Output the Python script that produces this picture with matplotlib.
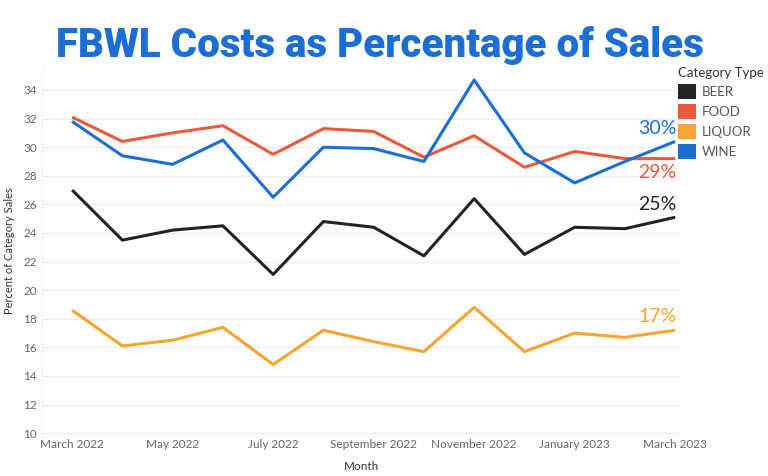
import numpy as np
import matplotlib.pyplot as plt
from matplotlib.patches import Patch

# ── Data ──────────────────────────────────────────────────────────────────────

months = ["March 2022", "April 2022", "May 2022", "June 2022", "July 2022",
          "August 2022", "September 2022", "October 2022", "November 2022",
          "December 2022", "January 2023", "February 2023", "March 2023"]
tick_months = ["March 2022", "May 2022", "July 2022", "September 2022",
               "November 2022", "January 2023", "March 2023"]

beer = [27.0, 23.5, 24.2, 24.5, 21.1, 24.8, 24.4, 22.4, 26.4, 22.5, 24.4, 24.3, 25.1]
food = [32.1, 30.4, 31.0, 31.5, 29.5, 31.3, 31.1, 29.3, 30.8, 28.6, 29.7, 29.2, 29.2]
liquor = [18.6, 16.1, 16.5, 17.4, 14.8, 17.2, 16.4, 15.7, 18.8, 15.7, 17.0, 16.7, 17.2]
wine = [31.8, 29.4, 28.8, 30.5, 26.5, 30.0, 29.9, 29.0, 34.7, 29.6, 27.5, 29.0, 30.4]

categories = ["BEER", "FOOD", "LIQUOR", "WINE"]
series = [beer, food, liquor, wine]
end_labels = ["25%", "29%", "17%", "30%"]

# ── Style ─────────────────────────────────────────────────────────────────────

COLOURS = {"BEER": "#232323", "FOOD": "#e9593b", "LIQUOR": "#f7a531", "WINE": "#1b6ed6"}
GRID = "#ececec"
TICK = "#666666"

plt.rcParams["font.family"] = ["Lato", "DejaVu Sans"]

fig = plt.figure(figsize=(7.68, 4.76), dpi=100)
ax = fig.add_axes([0.0547, 0.087, 0.831, 0.772])

x = np.arange(len(months))
for name, vals in zip(categories, series):
    ax.plot(x, vals, color=COLOURS[name], linewidth=2.2, solid_capstyle="butt")

# end-of-line value labels, set just left of and above/below the last point
label_offsets = {"BEER": 0.9, "FOOD": -1.0, "LIQUOR": 0.95, "WINE": 0.9}
for name, vals, lab in zip(categories, series, end_labels):
    ax.text(x[-1] - 0.36, vals[-1] + label_offsets[name], lab,
            color=COLOURS[name], fontsize=14, ha="center", va="center")

ax.set_xlim(-0.6, len(months) - 0.9)
ax.set_ylim(9.9, 35.6)
ax.set_yticks(range(10, 35, 2))
tick_pos = [months.index(m) for m in tick_months]
ax.set_xticks(tick_pos)
ax.set_xticklabels(tick_months)
ax.tick_params(axis="both", length=0, labelsize=8.5, labelcolor=TICK)
ax.tick_params(axis="x", pad=3)
ax.grid(axis="y", color=GRID, linewidth=0.8)
ax.set_axisbelow(True)
for side in ["top", "right", "bottom"]:
    ax.spines[side].set_visible(False)
ax.spines["left"].set_color("#f0f0f0")

ax.set_ylabel("Percent of Category Sales", fontsize=8, color="#333333", labelpad=6)
ax.set_xlabel("Month", fontsize=8.5, color="#333333", labelpad=8)

# legend
handles = [Patch(facecolor=COLOURS[c], edgecolor="none") for c in categories]
leg = fig.legend(handles, categories, loc="upper left", bbox_to_anchor=(0.873, 0.875),
                 frameon=False, fontsize=9.5, title="Category Type",
                 handlelength=1.3, handleheight=1.35, handletextpad=0.5,
                 labelspacing=0.38, alignment="left", borderaxespad=0.2)
for t in leg.get_texts():
    t.set_color("#555555")
leg.get_title().set_fontsize(9.5)
leg.get_title().set_color("#333333")

fig.suptitle("FBWL Costs as Percentage of Sales", x=0.495, y=0.945,
             fontsize=29, fontweight=900, family=["Roboto", "DejaVu Sans"],
             color="#1b6ed6")

fig.savefig("out.png", dpi=100)
